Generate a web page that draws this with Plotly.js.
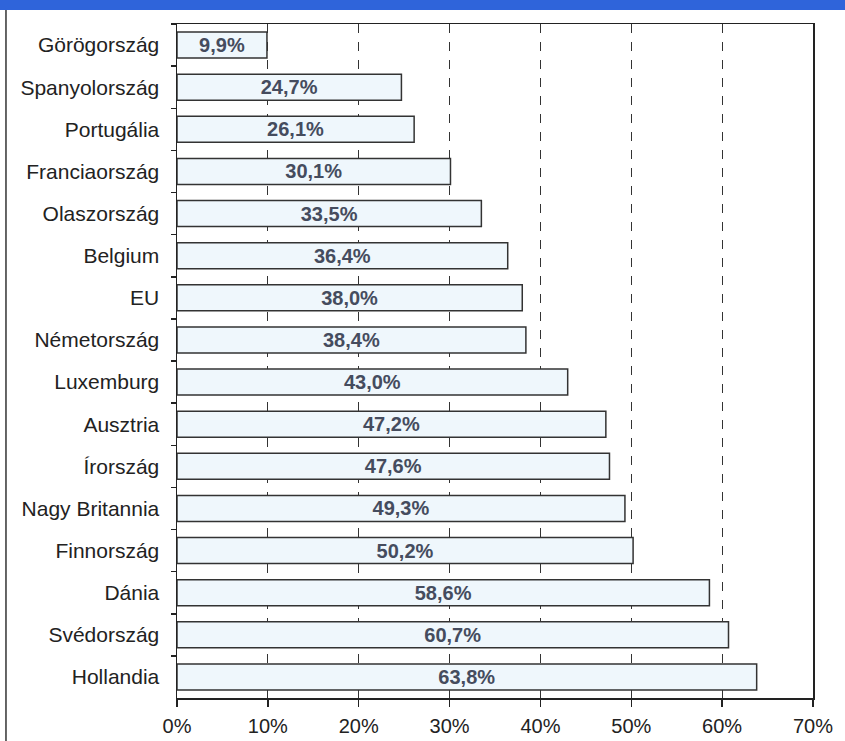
<!DOCTYPE html>
<html>
<head>
<meta charset="utf-8">
<script src="https://cdn.plot.ly/plotly-3.0.1.min.js"></script>
<style>
html,body{margin:0;padding:0;background:#fff;}
#chart{width:845px;height:741px;}
</style>
</head>
<body>
<div id="chart"></div>
<script>
const countries = ["Görögország","Spanyolország","Portugália","Franciaország","Olaszország","Belgium","EU","Németország","Luxemburg","Ausztria","Írország","Nagy Britannia","Finnország","Dánia","Svédország","Hollandia"];
const values = [9.9,24.7,26.1,30.1,33.5,36.4,38.0,38.4,43.0,47.2,47.6,49.3,50.2,58.6,60.7,63.8];
const xTickVals = [0,10,20,30,40,50,60,70];
const xTickText = ["0%","10%","20%","30%","40%","50%","60%","70%"];

const labels = values.map(v => v.toFixed(1).replace('.', ',') + '%');

const font = 'Liberation Sans, Arial, sans-serif';

const trace = {
  type: 'bar',
  orientation: 'h',
  x: values,
  y: countries,
  text: labels,
  textposition: 'inside',
  insidetextanchor: 'middle',
  textangle: 0,
  constraintext: 'none',
  textfont: {family: font, size: 20, color: '#454c5e', weight: 'bold'},
  marker: {color: '#eff7fc', line: {color: '#333333', width: 1.5}},
  width: 0.62,
  hoverinfo: 'none'
};

const layout = {
  width: 845, height: 741,
  margin: {l: 177, r: 32, t: 24, b: 43},
  paper_bgcolor: '#ffffff',
  plot_bgcolor: '#ffffff',
  showlegend: false,
  font: {family: font, size: 20, color: '#222'},
  xaxis: {
    range: [0, 70],
    tickvals: xTickVals,
    ticktext: xTickText,
    showgrid: true,
    gridcolor: '#333',
    gridwidth: 1,
    griddash: 'dash',
    zeroline: false,
    showline: true,
    linecolor: '#222',
    linewidth: 1.5,
    mirror: true,
    ticks: 'outside',
    ticklen: 7,
    tickcolor: '#222',
    tickwidth: 1.5,
    tickfont: {family: font, size: 20, color: '#222'},
    ticklabelstandoff: 2,
    fixedrange: true
  },
  yaxis: {
    type: 'category',
    range: [15.5, -0.5],
    showgrid: false,
    zeroline: false,
    showline: true,
    linecolor: '#222',
    linewidth: 1.5,
    mirror: true,
    ticks: 'outside',
    tickson: 'boundaries',
    ticklen: 5,
    tickcolor: '#222',
    tickwidth: 1.5,
    tickfont: {family: font, size: 21, color: '#222'},
    ticklabelstandoff: 12,
    fixedrange: true
  },
  shapes: [
    {type: 'rect', xref: 'paper', yref: 'paper', x0: -0.3, x1: 1.1, y0: 1.0208, y1: 1.04, fillcolor: '#2f64da', line: {width: 0}, layer: 'above'},
    {type: 'line', xref: 'paper', yref: 'paper', x0: -0.2689, x1: -0.2689, y0: 1.0208, y1: -0.07, line: {color: '#333', width: 1.5}}
  ]
};

Plotly.newPlot('chart', [trace], layout, {displayModeBar: false, staticPlot: true});
</script>
</body>
</html>
